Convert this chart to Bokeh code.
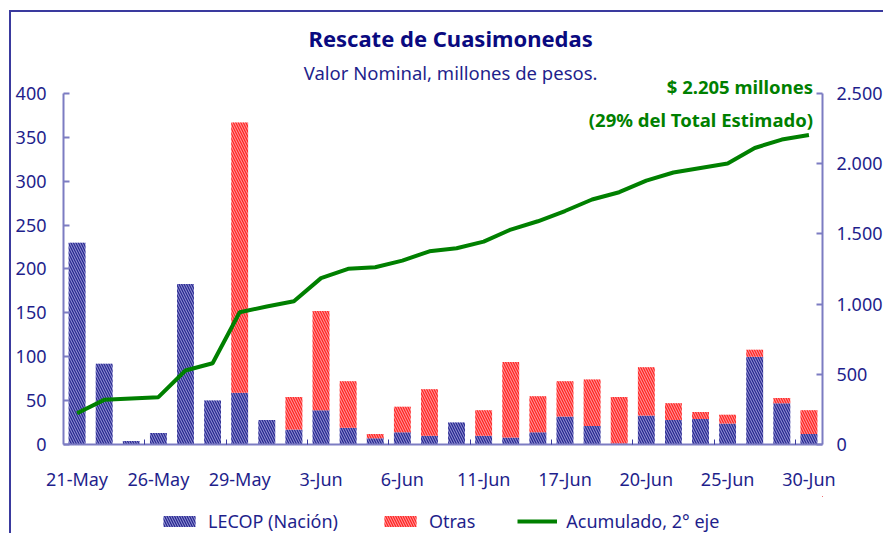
from bokeh.plotting import figure
from bokeh.layouts import column
from bokeh.models import (ColumnDataSource, Range1d, LinearAxis, FixedTicker, Label,
                          Legend, LegendItem)
from bokeh.embed import file_html
from bokeh.resources import INLINE

# ---- data ----
lecop = [230, 92, 4, 13, 183, 50, 59, 28, 17, 39, 19, 7, 14, 10,
         25, 10, 8, 14, 32, 21, 1, 33, 28, 29, 24, 100, 47, 12]
otras = [0, 0, 0, 0, 0, 0, 308, 0, 37, 113, 53, 5, 29, 53,
         0, 29, 86, 41, 40, 53, 53, 55, 19, 8, 10, 8, 6, 27]
acumulado = [223, 318, 328, 337, 527, 579, 942, 983, 1020, 1185, 1251, 1262, 1310, 1376,
             1398, 1445, 1531, 1590, 1663, 1745, 1797, 1880, 1937, 1970, 2001, 2112, 2172, 2205]
etiquetas_x = ["21-May", "26-May", "29-May", "3-Jun", "6-Jun", "11-Jun",
               "17-Jun", "20-Jun", "25-Jun", "30-Jun"]
ticks_izq = [0, 50, 100, 150, 200, 250, 300, 350, 400]
ticks_der = [0, 500, 1000, 1500, 2000, 2500]
etiquetas_der = ["0", "500", "1.000", "1.500", "2.000", "2.500"]
series = ["LECOP (Nación)", "Otras", "Acumulado, 2° eje"]

n = len(lecop)
xs = list(range(n))
tick_pos = xs[::3]
minor_pos = [t - 0.5 for t in tick_pos[1:]]

src = ColumnDataSource(dict(x=xs, lecop=lecop, otras=otras, acum=acumulado))

FONT = "Noto Sans"
TXT = "#1F1F8C"
AXC = "#7C7CC2"
BAR_FILL = ["#8C8CD2", "#FF9494"]
BAR_HATCH = ["#25258C", "#FF2020"]
GREEN = "#008000"
HATCH = dict(hatch_pattern="\\", hatch_weight=1.2, hatch_scale=5)

# frame reaches the top of the canvas so that titles inside it are not clipped;
# the axes are bounded to their real extent (0-400 and 0-2.500)
YMAX = 492.3
p = figure(width=874, height=484, output_backend="svg", toolbar_location=None,
           x_range=Range1d(-0.5, n - 0.5), y_range=Range1d(0, YMAX),
           min_border_left=52, min_border_right=59, min_border_top=0, min_border_bottom=52)
p.outline_line_color = None
p.grid.visible = False
p.extra_y_ranges = {"acum": Range1d(0, YMAX * 2500 / 400)}

bars = p.vbar_stack(["lecop", "otras"], x="x", width=0.62, source=src,
                    fill_color=BAR_FILL, line_color=None, hatch_color=BAR_HATCH, **HATCH)
line = p.line("x", "acum", source=src, y_range_name="acum",
              line_color=GREEN, line_width=4)

# x axis
xa = p.xaxis[0]
xa.ticker = FixedTicker(ticks=tick_pos, minor_ticks=minor_pos)
xa.major_label_overrides = {t: lab for t, lab in zip(tick_pos, etiquetas_x)}
xa.major_tick_line_color = None
xa.major_tick_in = 0
xa.major_tick_out = 0
xa.minor_tick_line_color = "#3A3A9E"
xa.minor_tick_in = 5
xa.minor_tick_out = 0
xa.axis_line_color = AXC
xa.axis_line_width = 2
xa.major_label_standoff = 22
xa.major_label_text_font = FONT
xa.major_label_text_font_size = "18px"
xa.major_label_text_color = TXT

# left axis
ya = p.yaxis[0]
ya.ticker = FixedTicker(ticks=ticks_izq)
ya.bounds = (ticks_izq[0], ticks_izq[-1])
ya.major_tick_in = 6
ya.major_tick_out = 0
ya.major_tick_line_color = AXC
ya.major_tick_line_width = 2
ya.minor_tick_line_color = None
ya.axis_line_color = AXC
ya.axis_line_width = 2
ya.major_label_standoff = 17
ya.major_label_text_font = FONT
ya.major_label_text_font_size = "18px"
ya.major_label_text_color = TXT

# right axis
ra = LinearAxis(y_range_name="acum", ticker=FixedTicker(ticks=ticks_der),
                bounds=(ticks_der[0], ticks_der[-1]),
                major_label_overrides={t: lab for t, lab in zip(ticks_der, etiquetas_der)})
ra.major_tick_in = 6
ra.major_tick_out = 0
ra.major_tick_line_color = AXC
ra.major_tick_line_width = 2
ra.minor_tick_line_color = None
ra.axis_line_color = AXC
ra.axis_line_width = 2
ra.major_label_standoff = 14
ra.major_label_text_font = FONT
ra.major_label_text_font_size = "18px"
ra.major_label_text_color = TXT
p.add_layout(ra, "right")

# titles and annotations
p.add_layout(Label(x=13.78, y=462.7, text="Rescate de Cuasimonedas", text_align="center",
                   text_baseline="middle", text_font=FONT, text_font_style="bold",
                   text_font_size="22px", text_color="#0A0A80"))
p.add_layout(Label(x=13.78, y=423.9, text="Valor Nominal, millones de pesos.",
                   text_align="center", text_baseline="middle", text_font=FONT,
                   text_font_size="18.5px", text_color=TXT))
p.add_layout(Label(x=27.15, y=408, text="$ 2.205 millones", text_align="right",
                   text_baseline="middle", text_font=FONT, text_font_style="bold",
                   text_font_size="18.5px", text_color=GREEN))
p.add_layout(Label(x=27.15, y=370.4, text="(29% del Total Estimado)", text_align="right",
                   text_baseline="middle", text_font=FONT, text_font_style="bold",
                   text_font_size="18.5px", text_color=GREEN))

# legend strip (own small figure so that it is not clipped by the chart frame);
# its swatch renderers use the same data, with zero-width bars, outside the visible range
pl = figure(width=874, height=39, output_backend="svg", toolbar_location=None,
            x_range=Range1d(-1.5, -0.5), y_range=Range1d(-3, -2),
            x_axis_type=None, y_axis_type=None,
            min_border_left=0, min_border_right=0, min_border_top=0, min_border_bottom=0)
pl.outline_line_color = None
sw_blue = pl.vbar(x="x", top="lecop", source=src, width=0, fill_color=BAR_FILL[0],
                  line_color=None, hatch_color=BAR_HATCH[0], **HATCH)
sw_red = pl.vbar(x="x", top="otras", source=src, width=0, fill_color=BAR_FILL[1],
                 line_color=None, hatch_color=BAR_HATCH[1], **HATCH)
sw_line = pl.line("x", "acum", source=src, line_color=GREEN, line_width=4)

legend = Legend(items=[LegendItem(label=series[0], renderers=[sw_blue]),
                       LegendItem(label=series[1], renderers=[sw_red]),
                       LegendItem(label=series[2], renderers=[sw_line])],
                orientation="horizontal", location=(96, 2),
                glyph_width=40, glyph_height=14, label_standoff=9, spacing=42,
                padding=0, margin=0, border_line_color=None, background_fill_alpha=0,
                label_text_font=FONT, label_text_font_size="18px", label_text_color=TXT)
pl.add_layout(legend)

page = column(p, pl, spacing=0, margin=(12, 0, 0, 11),
              styles={"box-shadow": "-2px -2px 0 0 #3A3A9E"})

open("out.html", "w").write(file_html(page, INLINE))
